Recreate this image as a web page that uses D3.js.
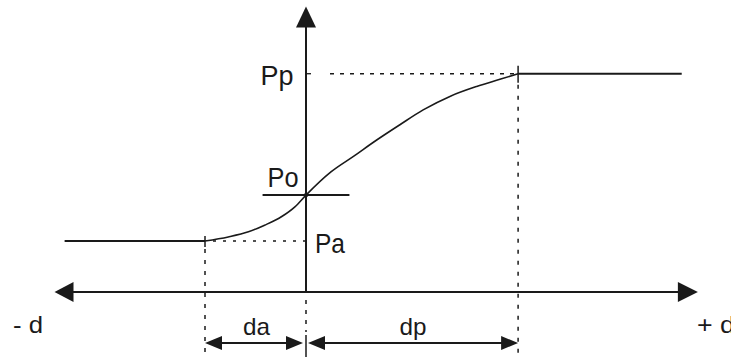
<!DOCTYPE html>
<html>
<head>
<meta charset="utf-8">
<script src="https://cdn.jsdelivr.net/npm/d3@7"></script>
<style>
  body { margin: 0; background: #fff; }
  svg { display: block; }
  text { font-family: "Liberation Sans", Arial, sans-serif; fill: #1a1a1a; }
</style>
</head>
<body>
<div id="chart"></div>
<script>
const width = 731;
const height = 362;

// pressure levels (axis units: Pa = 1)
const levelNames = ["Pa", "Po", "Pp"];
const levelValues = [1.0, 1.9, 4.28];

// distances along the d axis (da = 1)
const distNames = ["da", "dp"];
const distValues = [-1.0, 2.1];

// the S curve between Pa and Pp
const curveX = [-1.0, -0.77, -0.57, -0.41, -0.24, -0.11, 0, 0.25, 0.47, 0.70, 0.93, 1.16, 1.43, 1.69, 1.92, 2.1];
const curveY = [1.0, 1.08, 1.18, 1.31, 1.48, 1.67, 1.9, 2.36, 2.66, 2.98, 3.28, 3.57, 3.84, 4.03, 4.17, 4.28];

// extents of axes and plateaus
const axisX = [-2.49, 3.88];
const axisYTop = 5.6;
const plateauX = [-2.39, 3.72];
const dimRowY = -1.0;

const x = d3.scaleLinear().domain([0, 1]).range([306, 407]);
const y = d3.scaleLinear().domain([0, 1]).range([292, 241]);

const svg = d3.select("#chart").append("svg")
  .attr("width", width)
  .attr("height", height)
  .style("background", "#fff");

const ink = "#1a1a1a";
const Pa = levelValues[0], Po = levelValues[1], Pp = levelValues[2];
const da = distValues[0], dp = distValues[1];

// filled triangle arrow head: tip point, direction, length, half width
function arrowHead(tx, ty, dx, dy, len, hw) {
  const bx = tx - dx * len, by = ty - dy * len;
  const px = -dy, py = dx;
  return `M${tx},${ty}L${bx + px * hw},${by + py * hw}L${bx - px * hw},${by - py * hw}Z`;
}

// main horizontal axis
svg.append("line")
  .attr("x1", x(axisX[0]) + 4).attr("x2", x(axisX[1]) - 4)
  .attr("y1", y(0)).attr("y2", y(0))
  .attr("stroke", ink).attr("stroke-width", 2);
svg.append("path").attr("d", arrowHead(x(axisX[0]), y(0), -1, 0, 19, 10)).attr("fill", ink);
svg.append("path").attr("d", arrowHead(x(axisX[1]), y(0), 1, 0, 20, 10)).attr("fill", ink);

// vertical axis
svg.append("line")
  .attr("x1", x(0)).attr("x2", x(0))
  .attr("y1", y(axisYTop) + 4).attr("y2", y(0))
  .attr("stroke", ink).attr("stroke-width", 2);
svg.append("path").attr("d", arrowHead(x(0), y(axisYTop), 0, -1, 21, 10)).attr("fill", ink);

// dashed drop below the axis at origin, then a solid tick through the arrows
svg.append("line")
  .attr("x1", x(0)).attr("x2", x(0))
  .attr("y1", y(0) + 8).attr("y2", y(0) + 40)
  .attr("stroke", ink).attr("stroke-width", 1.5)
  .attr("stroke-dasharray", "4,6");
svg.append("line")
  .attr("x1", x(0)).attr("x2", x(0))
  .attr("y1", y(dimRowY) - 8).attr("y2", y(dimRowY) + 14)
  .attr("stroke", ink).attr("stroke-width", 1.5);

// plateaus
svg.append("line")
  .attr("x1", x(plateauX[0])).attr("x2", x(da))
  .attr("y1", y(Pa)).attr("y2", y(Pa))
  .attr("stroke", ink).attr("stroke-width", 2);
svg.append("line")
  .attr("x1", x(dp)).attr("x2", x(plateauX[1]))
  .attr("y1", y(Pp)).attr("y2", y(Pp))
  .attr("stroke", ink).attr("stroke-width", 2);

// dotted guides
svg.append("line")
  .attr("x1", x(da) + 8).attr("x2", x(0))
  .attr("y1", y(Pa)).attr("y2", y(Pa))
  .attr("stroke", ink).attr("stroke-width", 1.6)
  .attr("stroke-dasharray", "3,7");
svg.append("line")
  .attr("x1", x(0) + 24).attr("x2", x(dp))
  .attr("y1", y(Pp)).attr("y2", y(Pp))
  .attr("stroke", ink).attr("stroke-width", 1.6)
  .attr("stroke-dasharray", "4,6");
svg.append("line")
  .attr("x1", x(0)).attr("x2", x(0) + 5)
  .attr("y1", y(Pp)).attr("y2", y(Pp))
  .attr("stroke", ink).attr("stroke-width", 1.3);

// vertical dashed drops
svg.append("line")
  .attr("x1", x(da)).attr("x2", x(da))
  .attr("y1", y(Pa) + 8).attr("y2", y(dimRowY) + 10)
  .attr("stroke", ink).attr("stroke-width", 1.5)
  .attr("stroke-dasharray", "4,7");
svg.append("line")
  .attr("x1", x(dp)).attr("x2", x(dp))
  .attr("y1", y(Pp) + 11).attr("y2", y(dimRowY) + 10)
  .attr("stroke", ink).attr("stroke-width", 1.5)
  .attr("stroke-dasharray", "4,7");

// small ticks at curve ends
svg.append("line")
  .attr("x1", x(da)).attr("x2", x(da))
  .attr("y1", y(Pa) - 5).attr("y2", y(Pa) + 6)
  .attr("stroke", ink).attr("stroke-width", 1.5);
svg.append("line")
  .attr("x1", x(dp)).attr("x2", x(dp))
  .attr("y1", y(Pp) - 8).attr("y2", y(Pp) + 9)
  .attr("stroke", ink).attr("stroke-width", 1.5);

// Po cross line
svg.append("line")
  .attr("x1", x(-0.43)).attr("x2", x(0.43))
  .attr("y1", y(Po)).attr("y2", y(Po))
  .attr("stroke", ink).attr("stroke-width", 2);

// the curve
const line = d3.line()
  .x((d, i) => x(curveX[i]))
  .y((d, i) => y(curveY[i]))
  .curve(d3.curveMonotoneX);
svg.append("path")
  .datum(curveX)
  .attr("d", line)
  .attr("fill", "none")
  .attr("stroke", ink)
  .attr("stroke-width", 1.6);
svg.append("circle")
  .attr("cx", x(0)).attr("cy", y(Po)).attr("r", 2.2)
  .attr("fill", ink);

// dimension arrows da and dp
const dimSpans = [[da, 0], [0, dp]];
dimSpans.forEach(([a, b], i) => {
  const x0 = x(a) + (i === 1 ? 2 : 0);
  const x1 = x(b) - (i === 0 ? 3 : 0);
  const yy = y(dimRowY);
  svg.append("line")
    .attr("x1", x0 + 8).attr("x2", x1 - 8)
    .attr("y1", yy).attr("y2", yy)
    .attr("stroke", ink).attr("stroke-width", 2);
  svg.append("path").attr("d", arrowHead(x0, yy, -1, 0, 17, 7)).attr("fill", ink);
  svg.append("path").attr("d", arrowHead(x1, yy, 1, 0, 17, 7)).attr("fill", ink);
});

// labels
function label(txt, cx, base, w, size) {
  svg.append("text")
    .attr("x", cx - w / 2)
    .attr("y", base)
    .attr("font-size", size)
    .attr("textLength", w)
    .attr("lengthAdjust", "spacingAndGlyphs")
    .text(txt);
}

label(levelNames[2], 277, y(Pp) + 11, 33, 28);
label(levelNames[1], 283, y(Po) - 8, 31, 28);
label(levelNames[0], 330, y(Pa) + 12, 30, 28);

label(distNames[0], (x(da) + x(0)) / 2 + 1, 335, 27, 24);
label(distNames[1], (x(0) + x(dp)) / 2 + 1, 335, 27, 24);

label("- d", 28, 333, 30, 24);
label("+ d", 716, 333, 38, 24);
</script>
</body>
</html>
